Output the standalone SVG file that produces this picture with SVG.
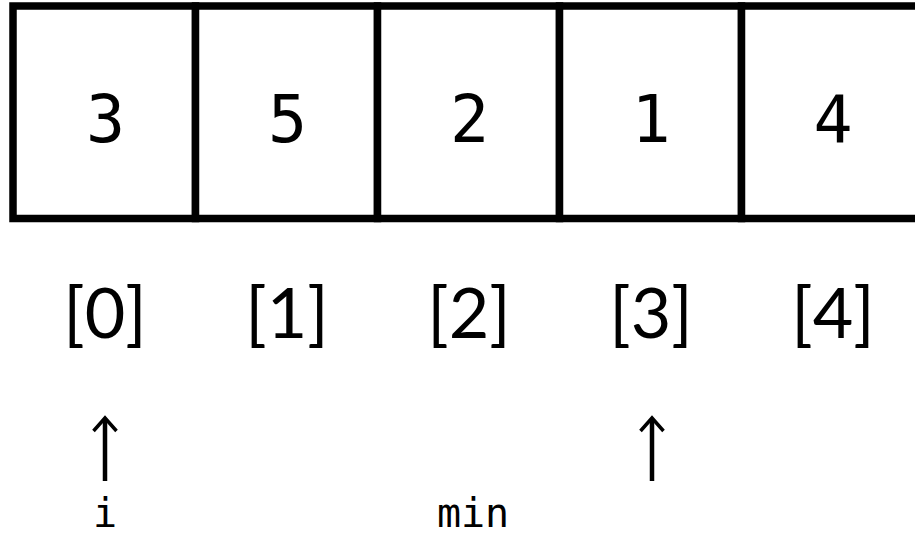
<svg xmlns="http://www.w3.org/2000/svg" width="915" height="537" viewBox="0 0 915 537">
  <style>
    .cell { fill: #fff; stroke: #000; stroke-width: 7.5; }
    .val { font-family: "DejaVu Sans Mono", monospace; font-size: 65px; fill: #000; text-anchor: middle; }
    .idx { font-family: Lato, "Open Sans", sans-serif; font-size: 70px; fill: #000; text-anchor: middle; }
    .var { font-family: "DejaVu Sans Mono", monospace; font-size: 40px; fill: #000; text-anchor: middle; }
    .shaft { stroke: #000; stroke-width: 4.5; fill: none; }
    .head { stroke: #000; stroke-width: 3.5; fill: none; stroke-linecap: butt; stroke-linejoin: miter; }
  </style>
  <rect width="915" height="537" fill="#fff"/>
  <g id="cell0"><rect class="cell" x="13" y="6" width="182.5" height="212.5"/><text class="val" x="105.5" y="142">3</text></g>
  <g id="cell1"><rect class="cell" x="195.5" y="6" width="182" height="212.5"/><text class="val" x="287.5" y="142">5</text></g>
  <g id="cell2"><rect class="cell" x="377.5" y="6" width="182" height="212.5"/><text class="val" x="469.5" y="142">2</text></g>
  <g id="cell3"><rect class="cell" x="559.5" y="6" width="182" height="212.5"/><text class="val" x="651" y="142">1</text></g>
  <g id="cell4"><rect class="cell" x="741.5" y="6" width="182" height="212.5"/><text class="val" x="833" y="142">4</text></g>
  <g id="indices">
    <text class="idx" x="105" y="338">[0]</text>
    <text class="idx" x="287" y="338">[1]</text>
    <text class="idx" x="469" y="338">[2]</text>
    <text class="idx" x="651" y="338">[3]</text>
    <text class="idx" x="833" y="338">[4]</text>
  </g>
  <g id="connectors">
    <line class="shaft" x1="105" y1="419" x2="105" y2="481"/>
    <polyline class="head" points="93.5,431 105,418 116.5,431"/>
    <line class="shaft" x1="652" y1="419" x2="652" y2="481"/>
    <polyline class="head" points="640.5,431 652,418 663.5,431"/>
  </g>
  <g id="labels">
    <text class="var" x="105" y="527">i</text>
    <text class="var" x="473" y="527">min</text>
  </g>
</svg>
